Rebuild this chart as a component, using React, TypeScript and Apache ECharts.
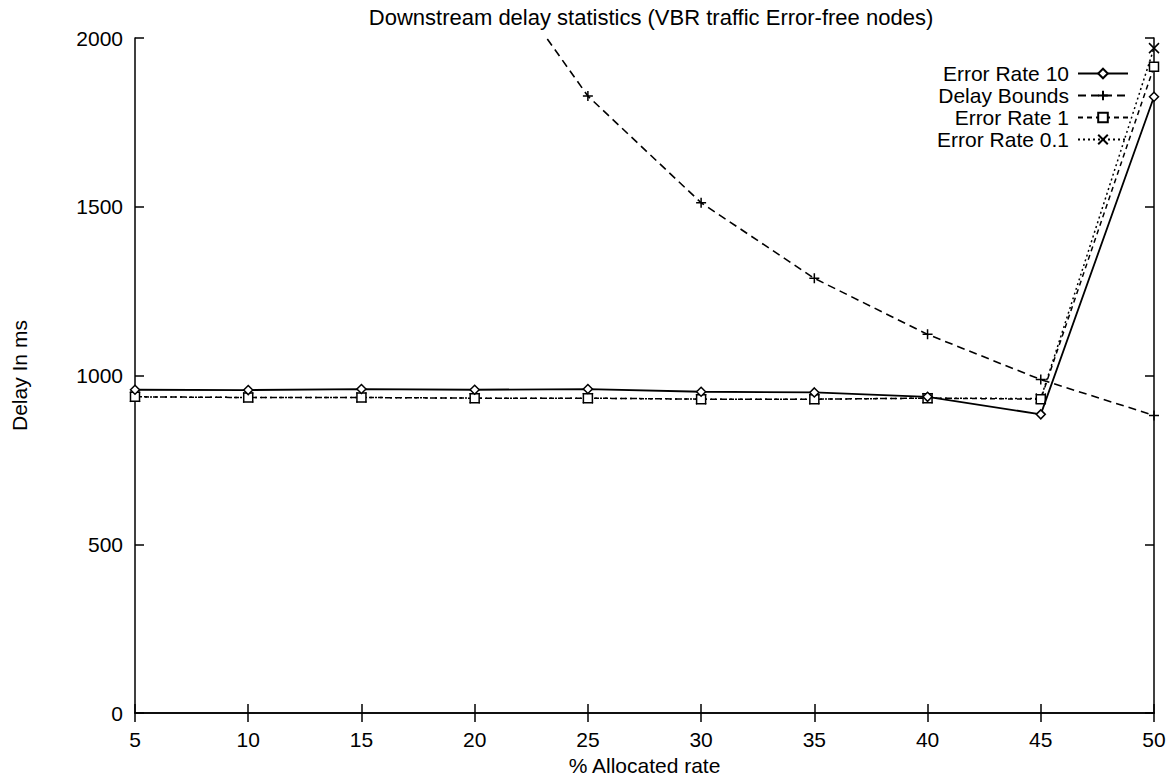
import React, { useEffect, useRef } from "react";
import * as echarts from "echarts";

const allocatedRate = [5, 10, 15, 20, 25, 30, 35, 40, 45, 50];
const errorRate10 = [958, 957, 960, 958, 960, 952, 950, 937, 885, 1826];
const delayBounds = [9400, 4660, 3090, 2300, 1828, 1512, 1288, 1122, 988, 882];
const errorRate1 = [937, 935, 935, 933, 933, 930, 930, 933, 930, 1915];
const errorRate01 = [937, 935, 935, 933, 933, 930, 930, 933, 932, 1970];

const xTicks = { min: 5, max: 50, interval: 5 };
const yTicks = { min: 0, max: 2000, interval: 500 };

const FONT = "Liberation Sans";
const FS = 21;

const PLUS = "path://M5,0L5,10M0,5L10,5";
const CROSS = "path://M0,0L10,10M10,0L0,10";

function pairs(ys: number[]) {
  return allocatedRate.map((x, i) => [x, ys[i]]);
}

export default function App() {
  const ref = useRef<HTMLDivElement>(null);
  useEffect(() => {
    if (!ref.current) return;
    const chart = echarts.init(ref.current, undefined, { renderer: "svg" });
    const axisLine = { show: true, lineStyle: { color: "#000", width: 1.5 } };
    const axisTick = { show: true, inside: true, length: 9, lineStyle: { color: "#000", width: 1.5 } };
    const label = { color: "#000", fontFamily: FONT, fontSize: FS };
    const hollow = { color: "#fff", borderColor: "#000", borderWidth: 1.5 };
    const stroke = { color: "#000", borderColor: "#000", borderWidth: 1.5 };
    const plain = (v: number) => String(v);
    chart.setOption({
      animation: false,
      backgroundColor: "#fff",
      title: {
        text: "Downstream delay statistics (VBR traffic Error-free nodes)",
        left: 646,
        textAlign: "center",
        top: 1,
        textStyle: { color: "#000", fontFamily: FONT, fontSize: 22, fontWeight: "normal" },
      },
      legend: {
        orient: "vertical",
        right: 40,
        top: 58,
        align: "right",
        itemWidth: 50,
        itemHeight: 12,
        itemGap: 1,
        textStyle: { color: "#000", fontFamily: FONT, fontSize: 21, lineHeight: 21, padding: [0, 4, 0, 0] },
        data: ["Error Rate 10", "Delay Bounds", "Error Rate 1", "Error Rate 0.1"],
      },
      grid: { left: 135, right: 20, top: 38, bottom: 63, containLabel: false },
      xAxis: [
        {
          type: "value",
          ...xTicks,
          position: "bottom",
          name: "% Allocated rate",
          nameLocation: "middle",
          nameGap: 40,
          nameTextStyle: label,
          axisLine,
          axisTick,
          axisLabel: { ...label, margin: 16, formatter: plain },
          splitLine: { show: false },
        },
        {
          type: "value",
          ...xTicks,
          position: "top",
          axisLine,
          axisTick,
          axisLabel: { show: false },
          splitLine: { show: false },
        },
      ],
      yAxis: [
        {
          type: "value",
          ...yTicks,
          position: "left",
          name: "Delay In ms",
          nameLocation: "middle",
          nameGap: 105,
          nameTextStyle: label,
          axisLine,
          axisTick,
          axisLabel: { ...label, margin: 12, formatter: plain },
          splitLine: { show: false },
        },
        {
          type: "value",
          ...yTicks,
          position: "right",
          axisLine,
          axisTick,
          axisLabel: { show: false },
          splitLine: { show: false },
        },
      ],
      series: [
        {
          name: "Error Rate 10",
          type: "line",
          data: pairs(errorRate10),
          symbol: "diamond",
          symbolSize: 9,
          showAllSymbol: true,
          lineStyle: { color: "#000", width: 1.8, type: "solid" },
          itemStyle: hollow,
          z: 4,
        },
        {
          name: "Delay Bounds",
          type: "line",
          data: pairs(delayBounds),
          symbol: PLUS,
          symbolSize: 10,
          lineStyle: { color: "#000", width: 1.6, type: [8, 5] },
          itemStyle: stroke,
          clip: true,
          z: 3,
        },
        {
          name: "Error Rate 1",
          type: "line",
          data: pairs(errorRate1),
          symbol: "rect",
          symbolSize: 9,
          lineStyle: { color: "#000", width: 1.5, type: [5, 4] },
          itemStyle: hollow,
          z: 3,
        },
        {
          name: "Error Rate 0.1",
          type: "line",
          data: pairs(errorRate01),
          symbol: CROSS,
          symbolSize: 10,
          lineStyle: { color: "#000", width: 1.5, type: [2, 3] },
          itemStyle: stroke,
          z: 2,
        },
      ],
    });
    return () => chart.dispose();
  }, []);
  return (
    <div
      ref={ref}
      style={{ position: "absolute", left: 0, top: 0, width: 1174, height: 781, background: "#fff" }}
    />
  );
}
